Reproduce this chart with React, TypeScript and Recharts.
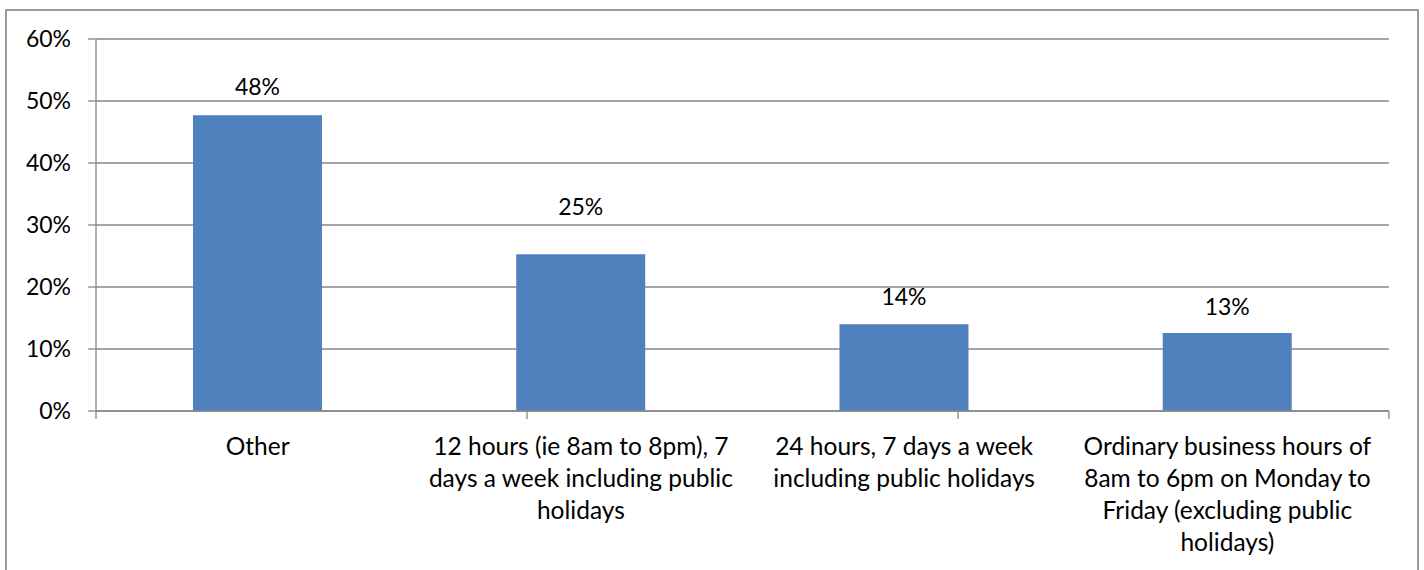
import React, { useLayoutEffect } from "react";
import { BarChart, Bar, XAxis, YAxis, CartesianGrid, LabelList } from "recharts";

// Service-hours categories and the share of responses for each
const categories = [
  "Other",
  "12 hours (ie 8am to 8pm), 7 days a week including public holidays",
  "24 hours, 7 days a week including public holidays",
  "Ordinary business hours of 8am to 6pm on Monday to Friday (excluding public holidays)",
];
const shares = [47.7, 25.3, 14.0, 12.6];

// Category labels broken into display lines
const tickLines = [
  ["Other"],
  ["12 hours (ie 8am to 8pm), 7", "days a week including public", "holidays"],
  ["24 hours, 7 days a week", "including public holidays"],
  ["Ordinary business hours of", "8am to 6pm on Monday to", "Friday (excluding public", "holidays)"],
];

const yTicks = [0, 10, 20, 30, 40, 50, 60];
const edgeTicks = [0, 1, 2, 3, 4];

const data = categories.map((name, i) => ({ name, share: shares[i], idx: i }));

const FONT = "Lato, 'Open Sans', sans-serif";
const GRID = "#878787";
const BAR = "#4F81BD";
const W = 1424;
const H = 570;

// Height of each value label above its bar
const labelRaise = [20, 39, 19, 18];

function CategoryTick(props: any) {
  const { x, y, payload, index } = props;
  const i = typeof index === "number" ? index : categories.indexOf(payload.value);
  const lines = tickLines[i] || [String(payload.value)];
  return (
    <text x={x} y={y + 43} textAnchor="middle" fontFamily={FONT} fontSize={24.5} fill="#000">
      {lines.map((ln, k) => (
        <tspan key={k} x={x} dy={k === 0 ? 0 : 32}>
          {ln}
        </tspan>
      ))}
    </text>
  );
}

function ValueLabel(props: any) {
  const { x, y, width, value, index } = props;
  return (
    <text
      x={x + width / 2}
      y={y - (labelRaise[index] ?? 20)}
      textAnchor="middle"
      fontFamily={FONT}
      fontSize={23}
      fill="#000"
    >
      {`${Math.round(value)}%`}
    </text>
  );
}

function EmptyTick() {
  return <g />;
}

export default function App() {
  // let the chart fill the page edge to edge
  useLayoutEffect(() => {
    document.body.style.margin = "0";
  }, []);

  return (
    <div style={{ position: "relative", width: W, height: H, overflow: "hidden", background: "#fff" }}>
      <div style={{ position: "absolute", left: 0, top: 0 }}>
        <BarChart
          width={W}
          height={H}
          data={data}
          margin={{ top: 39, right: 35, bottom: 0, left: 0 }}
          barCategoryGap="30%"
        >
          <CartesianGrid vertical={false} stroke={GRID} strokeWidth={1.3} />
          <XAxis
            xAxisId="a_edges"
            type="number"
            domain={[0, 4]}
            ticks={edgeTicks}
            allowDataOverflow
            height={1}
            interval={0}
            axisLine={{ stroke: GRID, strokeWidth: 1.3 }}
            tickSize={8}
            tickLine={{ stroke: GRID, strokeWidth: 1.3 }}
            tick={<EmptyTick />}
          />
          <XAxis
            xAxisId="b_cat"
            dataKey="name"
            height={158}
            interval={0}
            tickLine={false}
            tickSize={0}
            tickMargin={0}
            axisLine={false}
            tick={<CategoryTick />}
          />
          <YAxis
            width={96}
            domain={[0, 60]}
            ticks={yTicks}
            interval={0}
            tickSize={8}
            tickMargin={17}
            axisLine={{ stroke: GRID, strokeWidth: 1.3 }}
            tickLine={{ stroke: GRID, strokeWidth: 1.3 }}
            tickFormatter={(v: number) => `${v}%`}
            tick={{ fontFamily: FONT, fontSize: 23, fill: "#000" }}
          />
          <Bar xAxisId="b_cat" dataKey="share" fill={BAR} isAnimationActive={false}>
            <LabelList dataKey="share" content={<ValueLabel />} />
          </Bar>
        </BarChart>
      </div>
      {/* chart frame */}
      <svg
        width={W}
        height={H}
        style={{ position: "absolute", left: 0, top: 0, pointerEvents: "none" }}
      >
        <rect x={6} y={10} width={1412} height={620} fill="none" stroke="#9a9a9a" strokeWidth={2} />
      </svg>
    </div>
  );
}
